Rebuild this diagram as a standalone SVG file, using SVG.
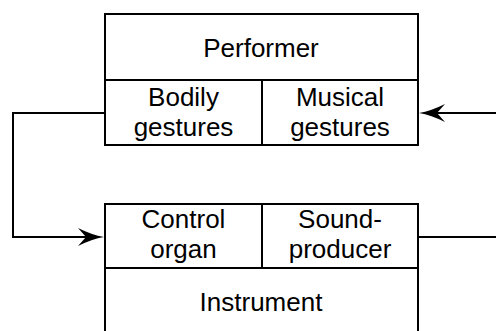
<svg xmlns="http://www.w3.org/2000/svg" width="496" height="331" viewBox="0 0 496 331">
<style>
.box{fill:#fff;stroke:#000;stroke-width:2}
.ln{fill:none;stroke:#000;stroke-width:2}
text{font-family:"Liberation Sans",Arial,Helvetica,sans-serif;font-size:26px;fill:#000;text-anchor:middle}
</style>
<defs>
<marker id="ah" markerUnits="userSpaceOnUse" viewBox="0 0 26 18" refX="8" refY="9" markerWidth="26" markerHeight="18" orient="auto" overflow="visible">
<path d="M0,0 Q14,7 26,9 Q14,11 0,18 L8,9 Z" fill="#000"/>
</marker>
</defs>
<rect width="496" height="331" fill="#fff"/>
<g id="performer">
<rect class="box" x="105" y="14" width="313" height="131"/>
<line class="ln" x1="105" y1="80" x2="418" y2="80"/>
<line class="ln" x1="262" y1="80" x2="262" y2="145"/>
<text x="261" y="57">Performer</text>
<text x="183.5" y="106">Bodily</text>
<text x="183.5" y="136">gestures</text>
<text x="340" y="106">Musical</text>
<text x="340" y="136">gestures</text>
</g>
<g id="instrument">
<rect class="box" x="105" y="204" width="313" height="150"/>
<line class="ln" x1="105" y1="268" x2="418" y2="268"/>
<line class="ln" x1="262" y1="204" x2="262" y2="268"/>
<text x="183.5" y="228">Control</text>
<text x="183.5" y="258">organ</text>
<text x="340" y="228">Sound-</text>
<text x="340" y="258">producer</text>
<text x="261" y="311">Instrument</text>
</g>
<g id="connectors">
<path class="ln" d="M105,113 H13 V237 H86" marker-end="url(#ah)"/>
<path class="ln" d="M496,113 H437" marker-end="url(#ah)"/>
<path class="ln" d="M418,237 H496"/>
</g>
</svg>
